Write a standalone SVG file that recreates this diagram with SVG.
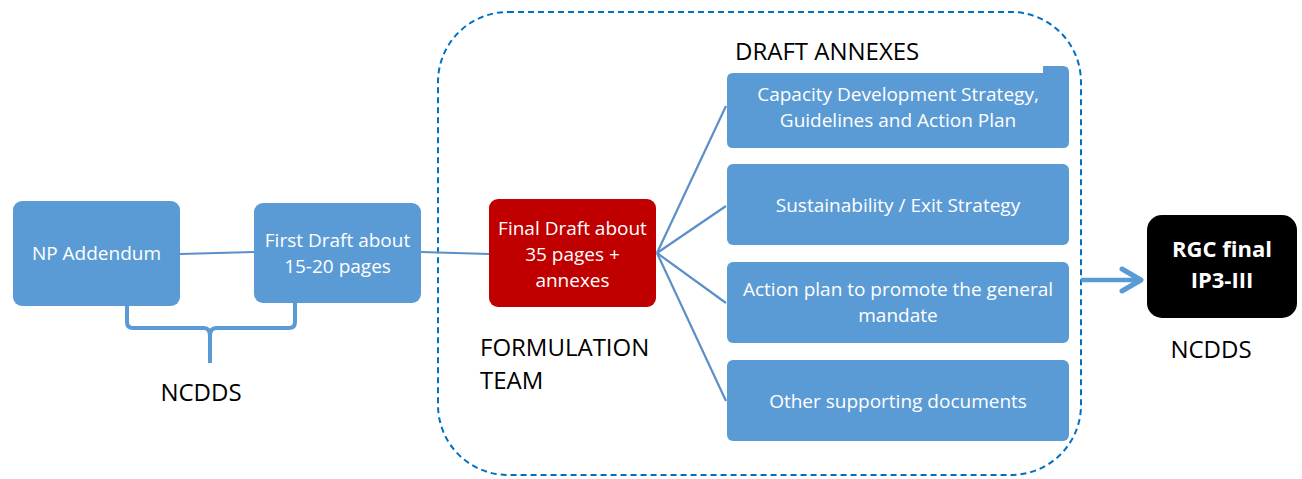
<svg xmlns="http://www.w3.org/2000/svg" width="1302" height="479" viewBox="0 0 1302 479">
  <defs>
    <style>
      .box { fill: #5B9BD5; }
      .lbl { font-family: "Open Sans", "Noto Sans", sans-serif; fill: #ffffff; text-anchor: middle; font-size: 19px; }
      .cap { font-family: "Open Sans", "Noto Sans", sans-serif; fill: #000000; font-size: 24px; }
      .link { stroke: #5B8FC7; stroke-width: 2.2; fill: none; }
    </style>
  </defs>
  <rect width="1302" height="479" fill="#ffffff"/>

  <!-- formulation team boundary -->
  <rect id="team-boundary" x="438" y="12" width="643" height="463" rx="70" ry="70" fill="none" stroke="#0070C0" stroke-width="2" stroke-dasharray="6 4"/>

  <!-- connectors -->
  <g id="connectors">
    <line class="link" x1="180" y1="254" x2="254" y2="252"/>
    <line class="link" x1="421" y1="252" x2="489" y2="254"/>
    <line class="link" x1="657" y1="253" x2="726" y2="106"/>
    <line class="link" x1="657" y1="253" x2="726" y2="206"/>
    <line class="link" x1="657" y1="253" x2="726" y2="303"/>
    <line class="link" x1="657" y1="253" x2="726" y2="401"/>
    <!-- brace under the first two steps -->
    <path d="M127 306 V322 Q127 328 133 328 H204 Q210 328 210 336 V363 M210 336 Q210 328 216 328 H289 Q295 328 295 322 V303" fill="none" stroke="#5B9BD5" stroke-width="4"/>
    <!-- hand-over arrow -->
    <line x1="1081" y1="280" x2="1140" y2="280" stroke="#5B9BD5" stroke-width="4.5"/>
    <polyline points="1122,269 1141,280 1122,291" fill="none" stroke="#5B9BD5" stroke-width="5" stroke-linecap="round" stroke-linejoin="round"/>
  </g>

  <g id="np-addendum">
    <rect class="box" x="13" y="201" width="167" height="105" rx="9"/>
    <text class="lbl" x="96.5" y="260">NP Addendum</text>
  </g>

  <g id="first-draft">
    <rect class="box" x="254" y="203" width="167" height="100" rx="9"/>
    <text class="lbl" x="337.5" y="247">First Draft about</text>
    <text class="lbl" x="337.5" y="273">15-20 pages</text>
  </g>

  <g id="ncdds-left">
    <text class="cap" x="201" y="401" text-anchor="middle">NCDDS</text>
  </g>

  <g id="final-draft">
    <rect x="489" y="199" width="167" height="108" rx="9" fill="#C00000"/>
    <text class="lbl" x="572.5" y="235">Final Draft about</text>
    <text class="lbl" x="572.5" y="261">35 pages +</text>
    <text class="lbl" x="572.5" y="287">annexes</text>
  </g>

  <g id="formulation-team">
    <text class="cap" x="480" y="356">FORMULATION</text>
    <text class="cap" x="480" y="389">TEAM</text>
  </g>

  <g id="draft-annexes-title">
    <text class="cap" x="735" y="60">DRAFT ANNEXES</text>
  </g>

  <g id="annex-capacity">
    <path class="box" d="M727 79 Q727 73 733 73 H1043 V66 H1063 Q1069 66 1069 72 V142 Q1069 148 1063 148 H733 Q727 148 727 142 Z"/>
    <text class="lbl" x="898" y="101">Capacity Development Strategy,</text>
    <text class="lbl" x="898" y="127">Guidelines and Action Plan</text>
  </g>

  <g id="annex-sustainability">
    <rect class="box" x="727" y="164" width="342" height="81" rx="6"/>
    <text class="lbl" x="898" y="212">Sustainability / Exit Strategy</text>
  </g>

  <g id="annex-action-plan">
    <rect class="box" x="727" y="262" width="342" height="81" rx="6"/>
    <text class="lbl" x="898" y="296">Action plan to promote the general</text>
    <text class="lbl" x="898" y="322">mandate</text>
  </g>

  <g id="annex-other">
    <rect class="box" x="727" y="360" width="342" height="81" rx="6"/>
    <text class="lbl" x="898" y="408">Other supporting documents</text>
  </g>

  <g id="rgc-final">
    <rect x="1147" y="215" width="150" height="103" rx="15" fill="#000000"/>
    <text x="1222" y="257" text-anchor="middle" font-family="Open Sans, Noto Sans, sans-serif" font-weight="bold" font-size="22" fill="#ffffff">RGC final</text>
    <text x="1222" y="288" text-anchor="middle" font-family="Open Sans, Noto Sans, sans-serif" font-weight="bold" font-size="22" fill="#ffffff">IP3-III</text>
  </g>

  <g id="ncdds-right">
    <text class="cap" x="1211" y="358" text-anchor="middle">NCDDS</text>
  </g>
</svg>
